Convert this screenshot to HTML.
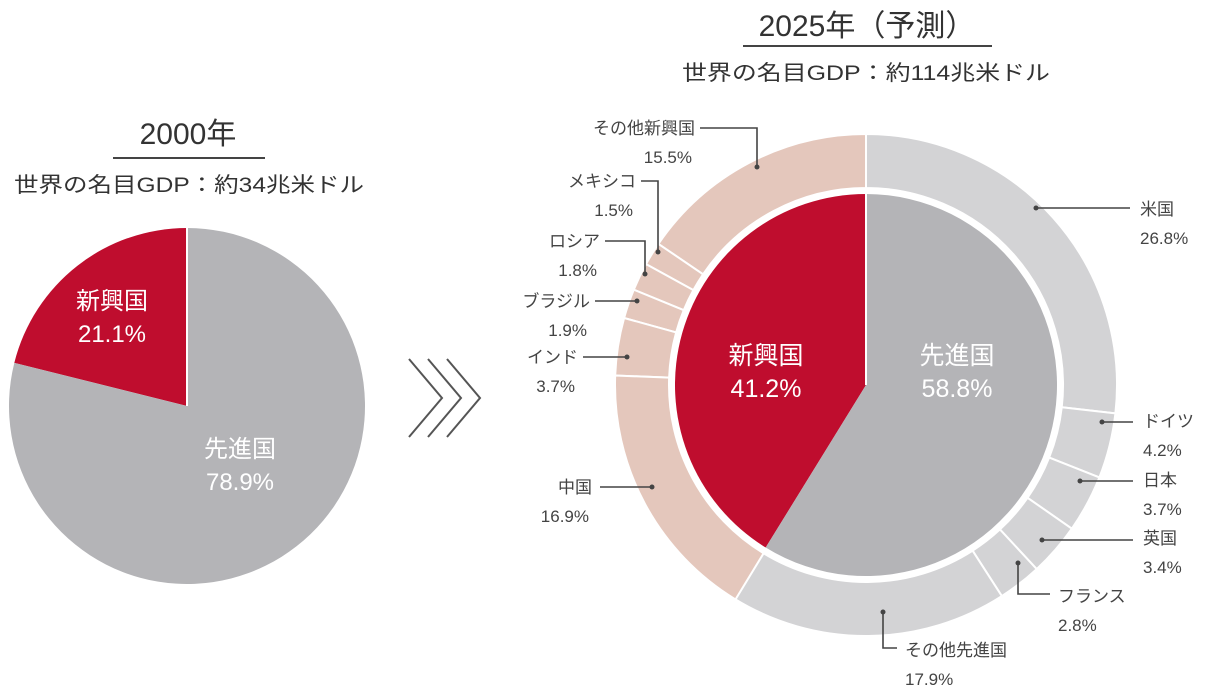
<!DOCTYPE html>
<html><head><meta charset="utf-8"><style>
body{margin:0;background:#fff;}
svg{display:block;font-family:"Liberation Sans","Noto Sans CJK JP",sans-serif;}
</style></head><body>
<svg id="chart" width="1219" height="696" viewBox="0 0 1219 696">
<g>
<text x="188" y="144" font-size="30" text-anchor="middle" fill="#333">2000年</text>
<line x1="113" y1="158" x2="265" y2="158" stroke="#444" stroke-width="2"/>
<text x="189" y="192" font-size="21" text-anchor="middle" fill="#333" textLength="350" lengthAdjust="spacingAndGlyphs">世界の名目GDP：約34兆米ドル</text>
</g>
<g>
<text x="867" y="36" font-size="30" text-anchor="middle" fill="#333">2025年（予測）</text>
<line x1="743" y1="46" x2="992" y2="46" stroke="#444" stroke-width="2"/>
<text x="866" y="80" font-size="21" text-anchor="middle" fill="#333" textLength="368" lengthAdjust="spacingAndGlyphs">世界の名目GDP：約114兆米ドル</text>
</g>
<g fill="none" stroke="#555" stroke-width="2">
<polyline points="409,359 442,398 409,437"/><polyline points="428,359 461,398 428,437"/><polyline points="447,359 480,398 447,437"/>
</g>
<g id="pie2000"></g>
<g id="donut"></g>
<g id="labels"></g>
</svg>
<script>
const pie2000Labels = ["新興国","先進国"];
const pie2000Values = [21.1, 78.9];
const innerLabels = ["新興国","先進国"];
const innerValues = [41.2, 58.8];
const advLabels = ["米国","ドイツ","日本","英国","フランス","その他先進国"];
const advValues = [26.8, 4.2, 3.7, 3.4, 2.8, 17.9];
const emgLabels = ["その他新興国","メキシコ","ロシア","ブラジル","インド","中国"];
const emgValues = [15.5, 1.5, 1.8, 1.9, 3.7, 16.9];

const NS="http://www.w3.org/2000/svg";
function mk(tag,attrs,parent){const e=document.createElementNS(NS,tag);for(const k in attrs)e.setAttribute(k,attrs[k]);parent.appendChild(e);return e;}
function ang(pct){return pct/100*2*Math.PI;}
function pt(cx,cy,r,a){return [cx+r*Math.sin(a), cy-r*Math.cos(a)];}
function wedge(cx,cy,r0,r1,a0,a1){
  const lo=Math.min(a0,a1), hi=Math.max(a0,a1), big=(hi-lo)>Math.PI?1:0;
  const p1=pt(cx,cy,r1,lo),p2=pt(cx,cy,r1,hi);
  if(r0===0) return `M${cx},${cy}L${p1}A${r1},${r1} 0 ${big} 1 ${p2}Z`;
  const p3=pt(cx,cy,r0,hi),p4=pt(cx,cy,r0,lo);
  return `M${p1}A${r1},${r1} 0 ${big} 1 ${p2}L${p3}A${r0},${r0} 0 ${big} 0 ${p4}Z`;
}
const g1=document.getElementById('pie2000');
const c1=[187,406], R1=178;
const emgA=ang(pie2000Values[0]);
let p=mk('path',{d:wedge(c1[0],c1[1],0,R1,-emgA,0),fill:'#bf0d2e'},g1);


p=mk('path',{d:wedge(c1[0],c1[1],0,R1,0,2*Math.PI-emgA),fill:'#b4b4b7'},g1);


mk('line',{x1:c1[0],y1:c1[1],x2:c1[0],y2:c1[1]-R1,stroke:'#fff','stroke-width':2},g1);
const lp=[[112,300],[240,448]];
pie2000Labels.forEach((l,i)=>{
  let t=mk('text',{x:lp[i][0],y:lp[i][1]+9,'font-size':24,fill:'#fff','text-anchor':'middle'},g1);t.textContent=l;
  
  
  t=mk('text',{x:lp[i][0],y:lp[i][1]+42,'font-size':24,fill:'#fff','text-anchor':'middle'},g1);t.textContent=pie2000Values[i].toFixed(1)+'%';
  
  
});
const g2=document.getElementById('donut');
const C=[866,385], RI=191, RO0=197, RO1=251;
const ia=ang(innerValues[0]);
p=mk('path',{d:wedge(C[0],C[1],0,RI,-ia,0),fill:'#bf0d2e'},g2);


p=mk('path',{d:wedge(C[0],C[1],0,RI,0,2*Math.PI-ia),fill:'#b4b4b7'},g2);


mk('line',{x1:C[0],y1:C[1],x2:C[0],y2:C[1]-RI,stroke:'#fff','stroke-width':2},g2);
let acc=0;
advValues.forEach((v,i)=>{
  const a0=ang(acc),a1=ang(acc+v);acc+=v;
  const s=mk('path',{d:wedge(C[0],C[1],RO0,RO1,a0,a1),fill:'#d3d3d5',stroke:'#fff','stroke-width':2},g2);
  
  
});
acc=0;
emgValues.forEach((v,i)=>{
  const a0=-ang(acc),a1=-ang(acc+v);acc+=v;
  const s=mk('path',{d:wedge(C[0],C[1],RO0,RO1,a1,a0),fill:'#e4c7bc',stroke:'#fff','stroke-width':2},g2);
  
  
});
const ilp=[[766,355],[957,355]];
innerLabels.forEach((l,i)=>{
  let t=mk('text',{x:ilp[i][0],y:ilp[i][1]+9,'font-size':25,fill:'#fff','text-anchor':'middle'},g2);t.textContent=l;
  
  
  t=mk('text',{x:ilp[i][0],y:ilp[i][1]+42,'font-size':25,fill:'#fff','text-anchor':'middle'},g2);t.textContent=innerValues[i].toFixed(1)+'%';
  
  
});
const gl=document.getElementById('labels');
const emgLay=[
 {tx:695,ty:128,line:[[700,128],[757,128],[757,167]]},
 {tx:636,ty:181,line:[[641,181],[658,181],[658,252]]},
 {tx:600,ty:241,line:[[605,241],[645,241],[645,274]]},
 {tx:590,ty:301,line:[[595,301],[637,301]]},
 {tx:578,ty:357,line:[[583,357],[627,357]]},
 {tx:592,ty:487,line:[[600,487],[652,487]]}];
const advLay=[
 {tx:1140,ty:209,line:[[1130,208],[1036,208]]},
 {tx:1143,ty:421,line:[[1133,422],[1102,422]]},
 {tx:1143,ty:480,line:[[1133,481],[1080,481]]},
 {tx:1143,ty:538,line:[[1133,540],[1042,540]]},
 {tx:1058,ty:596,line:[[1050,594],[1018,594],[1018,563]]},
 {tx:905,ty:650,line:[[897,648],[883,648],[883,612]]}];
function drawLabel(name,val,lay,anchor){
  const t=mk('text',{x:lay.tx,y:lay.ty+6,'font-size':17,fill:'#444','text-anchor':anchor},gl);t.textContent=name;
  
  
  const t2=mk('text',{x:lay.tx-(anchor==='end'?3:0),y:lay.ty+35,'font-size':17,fill:'#444','text-anchor':anchor},gl);t2.textContent=val.toFixed(1)+'%';
  
  
  const l=mk('polyline',{points:lay.line.map(q=>q.join(',')).join(' '),fill:'none',stroke:'#444','stroke-width':1.6},gl);
  
  
  const e=lay.line[lay.line.length-1];
  mk('circle',{cx:e[0],cy:e[1],r:2.5,fill:'#444'},gl);
}
emgLabels.forEach((n,i)=>drawLabel(n,emgValues[i],emgLay[i],'end'));
advLabels.forEach((n,i)=>drawLabel(n,advValues[i],advLay[i],'start'));
</script>
</body></html>
